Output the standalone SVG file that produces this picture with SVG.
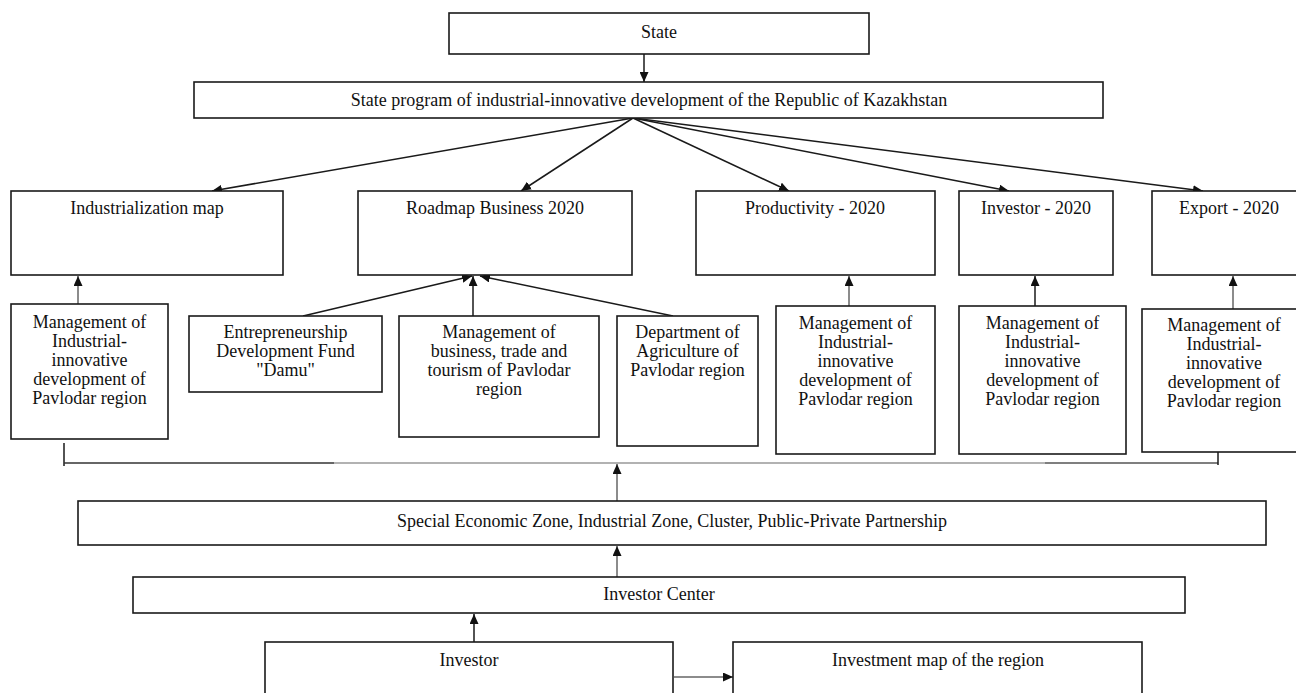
<svg xmlns="http://www.w3.org/2000/svg" width="1296" height="693" viewBox="0 0 1296 693">
<style>
.box{fill:#fff;stroke:#1a1a1a;stroke-width:1.6}
.t{font-family:"Liberation Serif","Times New Roman",serif;font-size:18px;fill:#111;text-anchor:middle}
.c{stroke:#1a1a1a;stroke-width:1.5;fill:none}
.g{stroke:#666;stroke-width:1.5;fill:none}
</style>
<defs>
<marker id="ah" markerUnits="userSpaceOnUse" markerWidth="10" markerHeight="9" refX="10" refY="4.5" orient="auto">
<path d="M0,0 L10,4.5 L0,9 z" fill="#111"/>
</marker>
</defs>
<rect width="1296" height="693" fill="#fff"/>

<g id="connectors">
<line class="c" x1="644" y1="54" x2="644" y2="82" marker-end="url(#ah)"/>
<line class="c" x1="633" y1="118" x2="212" y2="191" marker-end="url(#ah)"/>
<line class="c" x1="633" y1="118" x2="521" y2="191" marker-end="url(#ah)"/>
<line class="c" x1="633" y1="118" x2="789" y2="191" marker-end="url(#ah)"/>
<line class="c" x1="633" y1="118" x2="1009" y2="191" marker-end="url(#ah)"/>
<line class="c" x1="633" y1="118" x2="1203" y2="191" marker-end="url(#ah)"/>
<line class="g" x1="78" y1="304" x2="78" y2="276" marker-end="url(#ah)"/>
<line class="c" x1="303" y1="316" x2="472" y2="276" marker-end="url(#ah)"/>
<line class="c" x1="473" y1="316" x2="473" y2="276" marker-end="url(#ah)"/>
<line class="c" x1="673" y1="316" x2="480" y2="276" marker-end="url(#ah)"/>
<line class="g" x1="849" y1="306" x2="849" y2="276" marker-end="url(#ah)"/>
<line class="c" x1="1035" y1="306" x2="1035" y2="276" marker-end="url(#ah)"/>
<line class="g" x1="1233" y1="309" x2="1233" y2="276" marker-end="url(#ah)"/>
<line class="c" x1="64" y1="443" x2="64" y2="466"/>
<line x1="64" y1="463" x2="334" y2="463" stroke="#333" stroke-width="1.5"/>
<line x1="334" y1="463" x2="1045" y2="463" stroke="#999" stroke-width="1.5"/>
<line x1="1045" y1="463" x2="1218" y2="463" stroke="#555" stroke-width="1.5"/>
<line class="c" x1="1218" y1="442" x2="1218" y2="465"/>
<line class="g" x1="617" y1="501" x2="617" y2="464" marker-end="url(#ah)"/>
<line class="g" x1="617" y1="577" x2="617" y2="546" marker-end="url(#ah)"/>
<line class="c" x1="474" y1="642" x2="474" y2="614" marker-end="url(#ah)"/>
<line class="g" x1="674" y1="677" x2="733" y2="677" marker-end="url(#ah)"/>
</g>

<g id="state"><rect class="box" x="449" y="13" width="420" height="41"/><text class="t" x="659" y="38">State</text></g>
<g id="program"><rect class="box" x="194" y="82" width="909" height="36"/><text class="t" x="649" y="106">State program of industrial-innovative development of the Republic of Kazakhstan</text></g>

<g id="industrialization"><rect class="box" x="11" y="191" width="272" height="84"/><text class="t" x="147" y="214">Industrialization map</text></g>
<g id="roadmap"><rect class="box" x="358" y="191" width="274" height="84"/><text class="t" x="495" y="214">Roadmap Business 2020</text></g>
<g id="productivity"><rect class="box" x="696" y="191" width="239" height="84"/><text class="t" x="815" y="214">Productivity - 2020</text></g>
<g id="investor2020"><rect class="box" x="959" y="191" width="154" height="84"/><text class="t" x="1036" y="214">Investor - 2020</text></g>
<g id="export"><rect class="box" x="1152" y="191" width="160" height="84"/><text class="t" x="1229" y="214">Export - 2020</text></g>

<g id="mgmt1"><rect class="box" x="11" y="304" width="157" height="135"/>
<text class="t" x="89.5" y="328"><tspan x="89.5">Management of</tspan><tspan x="89.5" dy="19">Industrial-</tspan><tspan x="89.5" dy="19">innovative</tspan><tspan x="89.5" dy="19">development of</tspan><tspan x="89.5" dy="19">Pavlodar region</tspan></text></g>
<g id="fund"><rect class="box" x="189" y="316" width="193" height="76"/>
<text class="t" x="285.5" y="338"><tspan x="285.5">Entrepreneurship</tspan><tspan x="285.5" dy="19">Development Fund</tspan><tspan x="285.5" dy="19">"Damu"</tspan></text></g>
<g id="mgmt-business"><rect class="box" x="399" y="316" width="200" height="121"/>
<text class="t" x="499" y="338"><tspan x="499">Management of</tspan><tspan x="499" dy="19">business, trade and</tspan><tspan x="499" dy="19">tourism of Pavlodar</tspan><tspan x="499" dy="19">region</tspan></text></g>
<g id="agriculture"><rect class="box" x="617" y="316" width="141" height="130"/>
<text class="t" x="687.5" y="338"><tspan x="687.5">Department of</tspan><tspan x="687.5" dy="19">Agriculture of</tspan><tspan x="687.5" dy="19">Pavlodar region</tspan></text></g>
<g id="mgmt-productivity"><rect class="box" x="776" y="306" width="159" height="148"/>
<text class="t" x="855.5" y="329"><tspan x="855.5">Management of</tspan><tspan x="855.5" dy="19">Industrial-</tspan><tspan x="855.5" dy="19">innovative</tspan><tspan x="855.5" dy="19">development of</tspan><tspan x="855.5" dy="19">Pavlodar region</tspan></text></g>
<g id="mgmt-investor"><rect class="box" x="959" y="306" width="167" height="148"/>
<text class="t" x="1042.5" y="329"><tspan x="1042.5">Management of</tspan><tspan x="1042.5" dy="19">Industrial-</tspan><tspan x="1042.5" dy="19">innovative</tspan><tspan x="1042.5" dy="19">development of</tspan><tspan x="1042.5" dy="19">Pavlodar region</tspan></text></g>
<g id="mgmt-export"><rect class="box" x="1142" y="309" width="164" height="143"/>
<text class="t" x="1224" y="331"><tspan x="1224">Management of</tspan><tspan x="1224" dy="19">Industrial-</tspan><tspan x="1224" dy="19">innovative</tspan><tspan x="1224" dy="19">development of</tspan><tspan x="1224" dy="19">Pavlodar region</tspan></text></g>

<g id="sez"><rect class="box" x="78" y="501" width="1188" height="44"/><text class="t" x="672" y="527">Special Economic Zone, Industrial Zone, Cluster, Public-Private Partnership</text></g>
<g id="investor-center"><rect class="box" x="133" y="577" width="1052" height="36"/><text class="t" x="659" y="600">Investor Center</text></g>
<g id="investor"><rect class="box" x="265" y="642" width="408" height="70"/><text class="t" x="469" y="666">Investor</text></g>
<g id="investment-map"><rect class="box" x="733" y="642" width="409" height="70"/><text class="t" x="938" y="666">Investment map of the region</text></g>
</svg>
